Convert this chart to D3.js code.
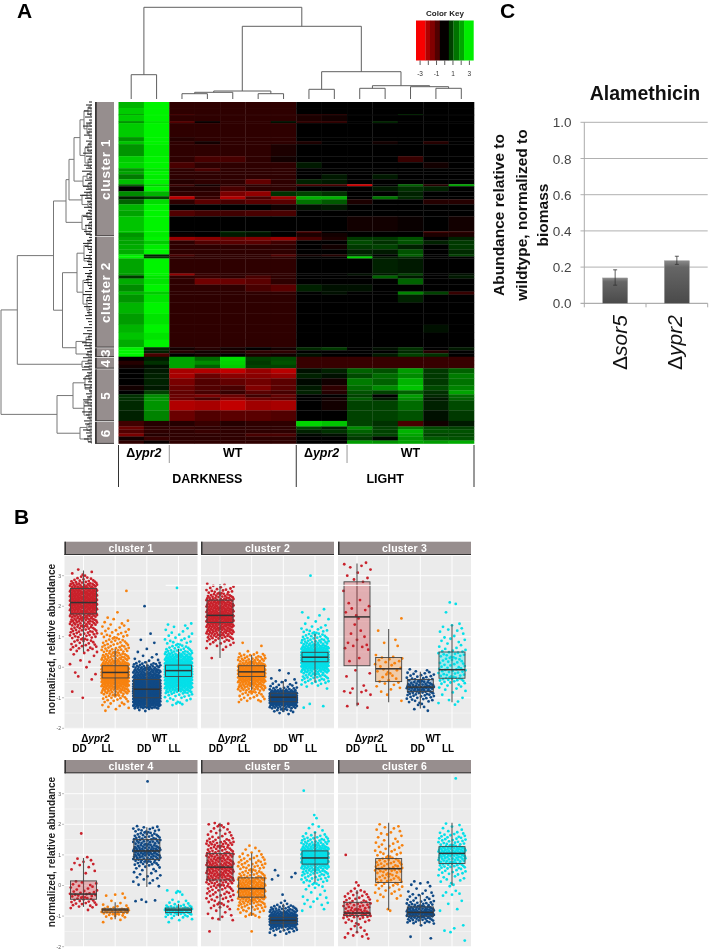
<!DOCTYPE html>
<html>
<head>
<meta charset="utf-8">
<script src="https://cdn.jsdelivr.net/npm/d3@7"></script>
<style>
  body { margin: 0; background: #fff; }
  svg { filter: blur(0.35px); }
  text { font-family: "Liberation Sans", sans-serif; }
</style>
</head>
<body>
<script>
// ---- panel A data: rows are [gene count, 14 z-scores], all estimated by eye
const heatRows1 = [
  [6, 2.2,3,-.5,-.5,-.5,-.5,-.5,0,0,0,0,0,0,0],
  [6, 2.5,3,-.5,-.5,-.5,-.5,-.5,0,0,0,0,0,0,0],
  [1, 2.0,3,-.7,-.5,-.5,-.5,-.5,-.4,-.4,0,0,.4,0,0],
  [6, 2.5,3,-.5,-.5,-.5,-.5,-.5,-.3,-.2,0,0,0,0,0],
  [2, 1.8,2.8,-.9,-.1,-.5,-.5,.2,-.5,-.5,0,.4,0,0,0],
  [14, 2.5,3,-.5,-.5,-.5,-.5,-.5,0,0,0,0,0,0,0],
  [4, 1.8,3,-.4,-.5,-.5,-.5,-.5,0,0,0,0,0,0,0],
  [3, 2.4,3,-.5,-.2,-.5,-.5,-.5,-.3,0,0,-.2,0,-.4,0],
  [12, 1.8,2.9,-.5,-.5,-.5,-.5,-.3,0,0,0,0,0,0,0],
  [6, 2.5,3,-.5,-.8,-.8,-.5,-.2,0,0,0,0,-.6,0,0],
  [6, 2.6,3,-.8,-.5,-.5,-.5,-.5,.3,0,0,0,0,-.2,0],
  [3, 1.8,2.8,-.5,-.8,-.5,-.5,-.5,0,0,0,0,0,0,0],
  [3, 2,3,-.5,-.5,-.5,-.5,-.5,0,0,0,0,0,0,0],
  [5, 1.5,2.9,-.5,-.5,-.5,-.5,-.5,0,.3,0,.3,0,0,0],
  [5, 2.3,3,-.4,-.5,-.5,-1.1,-.5,.4,.3,0,0,0,0,0],
  [2, 1.2,2.5,-.6,-.2,-.5,-.5,-.5,-.8,-.8,-2.4,0,1.2,-.4,2],
  [5, 0,3,-.4,-.4,-.8,-.5,-.5,0,0,0,.3,.6,.4,0],
  [5, 1.7,2.2,-.5,-.5,-1.4,-1.7,.6,.8,.6,0,0,.4,0,0],
  [3, .4,.8,-2.2,-.6,-2.1,-.8,-1.9,2.2,2.2,0,1.4,.5,0,0],
  [5, 1.2,2.7,-.5,-1,-.8,-1,-1,1.4,1.1,-.3,0,0,-.4,-.4],
  [6, 2.2,3,0,0,0,0,-.2,.2,.3,0,0,0,0,0],
  [6, 2,3,-.9,-.7,-.7,-.8,-.8,0,0,0,0,0,0,0],
  [15, 2.4,3,0,0,0,0,0,0,0,-.2,-.2,-.1,0,-.2],
  [1.5, 2.4,3,0,0,.5,.4,0,-.8,0,0,0,0,-.7,-.5],
  [4, 1.8,2.9,-.1,0,.3,.2,0,-.3,-.2,0,0,0,-.3,-.3]
];
const heatRows2 = [
  [3.5, 2,3,-1.8,-1.6,-1.3,-1.5,-1.8,-.8,-.3,.7,.7,1,0,.4],
  [4, 2,2.5,-.5,-.9,-1,-1,-.7,0,0,.9,.6,1,.4,.7],
  [5, 2.1,2.9,-.5,-.5,-.5,-.5,-.5,0,-.2,.7,.8,.4,0,.7],
  [5, 2.1,3,-.5,-.5,-.5,-.5,-.5,0,0,.4,.3,1,0,.5],
  [2, 2.9,.4,-.8,-.5,-.5,-.5,-.9,-.2,-.4,.7,0,1.2,0,.8],
  [2, 3,.6,-.5,-.5,-.5,-.5,-.5,0,0,2.6,.3,.5,0,0],
  [15, 2,3,-.5,-.5,-.5,-.5,-.5,0,0,0,.4,.3,0,0],
  [2, 1.9,3,-1.7,-.6,-.5,-.5,-.5,0,0,.2,.3,.8,0,.2],
  [3, .7,2.8,-.5,-.6,-.5,-.8,-.5,0,0,0,1.2,.3,0,.3],
  [6, 2.1,2.8,-.5,-1.3,-1.2,-1,-.5,0,0,0,0,1.2,0,0],
  [7, 1.7,3,-.5,-.5,-.5,-.8,-1,.4,.2,.2,0,0,0,0],
  [3, 2.2,2.5,-.5,-.5,-.5,-.5,-.5,0,.2,0,0,1.6,.8,-.6],
  [8, 1.8,2.8,-.5,-.5,-.5,-.5,-.5,0,0,0,0,.4,0,0],
  [11, 2.2,3,-.5,-.5,-.5,-.5,-.5,0,0,0,0,0,0,0],
  [11, 1.9,2.8,-.5,-.5,-.5,-.5,-.5,0,0,0,0,0,0,0],
  [8, 2.2,3,-.5,-.5,-.5,-.5,-.5,0,0,0,0,0,.2,0],
  [7, 2.4,2.8,-.5,-.5,-.5,-.5,-.5,0,0,0,0,0,0,0],
  [7.5, 2.1,3,-.5,-.5,-.5,-.5,-.5,0,0,0,0,0,0,0]
];
const heatRows3 = [
  [3, 3,.5,-.2,-.4,-.2,0,-.2,.5,.7,0,.2,.6,0,.3],
  [3, 3,.4,-.4,-.2,-.3,-.5,-.5,0,0,0,0,.5,-.4,0],
  [3.5, 3,-.8,0,-.2,0,-.3,-.2,.2,0,0,.3,.8,.6,0]
];
const heatRows4 = [
  [4, 0,.3,2,1.3,2.7,.8,.9,-.6,-.6,-.6,-.6,-.6,-.6,-.6],
  [4, -.4,.6,2,1.7,2.6,.7,1,-.6,-.6,-.6,-.6,-.6,-.6,-.6],
  [3.5, -.2,.2,2,1.2,2.5,.8,.8,-.6,-.6,-.6,-.6,-.6,-.6,-.6]
];
const heatRows5 = [
  [5, 0,.3,-2,-2.1,-2.3,-1.8,-2.2,.2,.4,1.2,1,1.9,.7,1.2],
  [5, 0,.4,-2,-1.2,-1.6,-1.6,-1.8,.4,.2,.9,1.3,1.7,.7,1.5],
  [7, 0,.4,-1.4,-.9,-1.1,-1.3,-1,.1,-.2,1.5,1.2,2.2,.7,1.4],
  [5, -.2,.3,-1.2,-.9,-.8,-1.5,-1,.3,-.5,1.3,1.7,2.4,.9,1.6],
  [4, 0,.8,-1.1,-.8,-.6,-1,-.8,.4,-.4,1,.8,1.2,.6,2],
  [3, .6,1.7,-1.2,-1.4,-1.2,-.7,-1.1,0,0,.8,0,1.9,.5,1.3],
  [3, .6,1.8,-1.2,-.8,-1.5,-1.2,-1,0,-.2,1.1,.3,1.7,.3,1.2],
  [10, .5,1.8,-2.1,-2,-2.3,-1.9,-2,0,-.2,.8,.8,1.3,.4,.9],
  [10.5, .4,1.6,-1.2,-.9,-1,-1,-.9,0,0,.8,.8,1,.2,.7]
];
const heatRows6 = [
  [5.5, -.7,-.4,-.4,-.6,-.4,-.5,-.5,2.6,2.4,.8,.6,-.8,-.2,.3],
  [3, -1.2,-.5,-.6,-.5,-.5,-.5,-.5,.8,.4,1.7,.8,1.5,.9,.8],
  [4, -.9,-.5,-.5,-.6,-.5,-.5,-.5,.4,.6,1.2,.8,2.2,1,1],
  [3, -1.4,-.4,-.5,-.5,-.5,-.8,-.8,.1,.2,.9,.8,2,.8,.9],
  [4, -.2,-.6,-.5,-.5,-.5,-.5,-.5,0,0,.7,.1,1.8,1.1,1],
  [3, -.5,-.1,-.5,-.5,-.5,-.5,-.5,0,0,1.9,1.8,2,1.9,2.1]
];
const heatRows = [heatRows1, heatRows2, heatRows3, heatRows4, heatRows5, heatRows6].flat();
const clusterLabels = ["cluster 1", "cluster 2", "3", "4", "5", "6"];
const clusterSizes = [134.5, 111, 9.5, 11.5, 52.5, 22.5];
const columnGroups = ["Δypr2", "WT", "Δypr2", "WT"];
const keyBreaks = [-3.5, -2.35, -1.8, -1.2, -.6, .5, 1.05, 1.75, 2.35, 3.5];
const keyTicks = [-3, -2, -1, 0, 1, 2, 3];
const keyLabels = [-3, -1, 1, 3];

// dendrograms: [merge height, child, child]; a plain number is a leaf
const columnTree = [91.7,
  [24.3, 0, 1],
  [72.7,
    [8, [6.7, [5.3, 2, 3], 4], [5.3, 5, 6]],
    [27.3, [9.7, 7, 8], [13.3, [10.7, 9, 10], [12.3, 11, [10.7, 12, 13]]]]
  ]
];
const rowTree = [91,
  [74.7,
    [38.5,
      [26,
        [23,
          [18,
            [12,
              [8, [4, [2, 3, 7], [1.5, 11, 14]], [5, [2, 20, 24], [3, 29, 34]]],
              [7, [4, [2, 40, 44], [1, 48, 51]], [4, [2, 55, 59], [1.5, 63, 66]]]
            ],
            [9, [5, [2, 70, 73], [1, 75, 78]], [4, [2, 80, 83], [1, 85, 87]]]
          ],
          [10, [5, [2, 89, 92], [1, 94, 97]], [4, [2, 99, 101], [1, 103, 106]]]
        ],
        [10, [5, [2, 109, 112], [1, 114, 117]], [6, [3, [1, 119, 122], [1, 124, 127]], [2, 129, 133]]]
      ],
      [29.5,
        [15,
          [8, [4, [2, 137, 141], [1, 145, 149]], [3, [2, 153, 157], [1, 160, 164]]],
          [9, [4, [2, 170, 175], [1, 180, 186]], [5, [2, 192, 198], [3, 204, 212]]]
        ],
        [16, [6, [3, 232, 237], [2, 241, 245]], [4, [2, 248, 250], [1, 252, 255]]]
      ]
    ],
    [10, [4, 257, 260], [3, 263, 266]]
  ],
  [35,
    [19,
      [7, [3, [1, 269, 272], [2, 275, 279]], [2, [1, 282, 285], [1, 288, 290]]],
      [8, [4, [2, 293, 297], [1, 300, 304]], [3, [1, 307, 311], [2, 314, 317]]]
    ],
    [12, [5, [3, 320, 323], [2, 326, 329]], [4, [2, 332, 335], [1, 337, 340]]]
  ]
];
// short leaf branches along the edge of the row dendrogram, one every 3 rows
const rowFringe = [3,6,4,8,5,7,3,6,9,4,5,8,3,6,4,7,5,9,6,3,4,8,6,10,5,3,7,4,9,6,8,12,7,5,3,8,
  4,6,9,5,3,7,4,8,6,3,5,9,7,4,3,6,8,5,4,9,3,7,5,6,8,4,3,7,9,5,6,4,8,3,5,7,6,4,3,8,5,9,4,6,
  10,8,7,5,6,9,4,7,8,10,5,6,9,4,8,7,3,6,5,9,7,8,4,10,6,5,8,7,4,9,6,5,8,4];

// ---- panel B data: treatments, boxes [low, q1, median, q3, high]
const treatments = ["dd-mut", "ll-mut", "dd-wt", "ll-wt"];
const treatmentColors = ["#c9212b", "#f7820f", "#114a86", "#05dfe8"];
const facetNames = ["cluster 1", "cluster 2", "cluster 3", "cluster 4", "cluster 5", "cluster 6"];
const facetBoxes = [
  [[.5,1.75,2.12,2.58,3.17], [-.95,-.35,-.17,.05,.6], [-1.3,-1,-.72,-.4,.2], [-.8,-.3,-.11,.07,.6]],
  [[.3,1.47,1.7,2.2,2.73], [-.75,-.3,-.15,.05,.4], [-1.45,-1.13,-.98,-.85,-.45], [-.5,.18,.33,.49,1.1]],
  [[-1.28,.05,1.65,2.8,3.4], [-1.15,-.47,-.05,.32,1.25], [-1.35,-.8,-.65,-.4,-.15], [-1.15,-.36,-.08,.5,1.4]],
  [[-.7,-.45,-.28,.15,.9], [-1.1,-.87,-.8,-.76,-.55], [-.05,.85,1.13,1.5,1.9], [-1,-.88,-.8,-.74,-.6]],
  [[-1.15,.18,.6,1.05,2.05], [-1,-.38,-.1,.25,1.05], [-1.5,-1.23,-1.14,-1.04,-.6], [.1,.7,.9,1.13,1.75]],
  [[-1.55,-.98,-.9,-.55,-.15], [-.8,.1,.55,.88,2.05], [-1.3,-1,-.88,-.7,-.3], [0,.72,1.05,1.27,2.05]]
];
// jittered dots, read as [lowest value, dots per 0.1-wide step]; dots are spread evenly inside their step
const facetDots = [
  [
    [-1.0,[1,0,1,0,0,0,1,1,2,0,1,1,2,0,2,3,5,6,5,7,7,9,9,10,12,14,15,17,20,22,24,26,25,24,24,22,20,15,10,5,3,2,1]],
    [-1.4,[2,3,4,5,7,10,14,18,24,30,34,38,38,34,30,22,16,14,12,10,9,8,7,6,6,5,4,3,3,2,2,0,1,0,0,0,0,0,0,1]],
    [-1.4,[3,22,30,36,40,44,48,50,46,38,30,26,22,20,16,10,4,2,2,1,1,0,1,1,0,1,0,0,0,0,0,0,0,0,1]],
    [-1.2,[4,4,5,7,14,22,28,32,36,40,44,44,40,34,28,22,18,12,8,6,5,4,3,3,2,2,3,0,0,0,0,0,0,0,0,0,0,0,1]]
  ],
  [
    [.3,[1,0,0,2,3,5,7,12,15,17,19,21,23,25,25,22,20,19,18,16,13,10,7,5,3]],
    [-1.1,[5,5,6,9,12,16,20,26,30,34,32,26,18,13,10,8,2,0,1,1]],
    [-1.5,[3,8,16,34,48,56,46,26,10,5,4,3,0,1,1]],
    [-1.3,[2,1,0,0,0,0,1,3,6,8,10,12,18,26,34,42,46,44,36,26,18,12,10,8,7,6,3,2,1,2,1,1,1,0,0,0,0,0,0,0,0,0,0,1]]
  ],
  [
    [-1.3,[2,1,0,0,1,4,1,1,0,0,1,1,1,0,0,1,1,0,0,2,3,1,1,1,1,1,0,1,0,1,1,1,2,1,1,1,0,0,1,0,0,1,2,1,1,1,2,2]],
    [-1.1,[1,0,1,1,2,2,3,2,2,3,3,2,3,3,4,1,0,0,1,1,1,0,0,1,0,0,0,1]],
    [-1.4,[2,1,3,5,7,9,12,16,14,10,7,6,5,3]],
    [-1.2,[2,2,1,1,2,3,3,5,9,7,6,7,5,5,5,6,6,6,3,2,2,3,2,1,3,2,2,0,0,0,1,0,0,2]]
  ],
  [
    [-.8,[1,4,6,6,7,7,5,3,4,3,0,0,1,2,1,3,2,2,0,0,0,0,0,0,0,1]],
    [-1.2,[1,2,5,12,12,5,2,1,1,3]],
    [-.5,[4,0,0,0,0,2,2,3,3,3,3,4,8,11,12,14,16,15,11,10,10,9,8,7,5,0,0,0,0,0,0,0,0,0,0,0,0,0,0,1]],
    [-1.2,[1,3,6,14,18,11,4,3,0,1,4]]
  ],
  [
    [-1.5,[1,0,0,0,3,2,2,2,4,4,5,5,6,6,7,9,10,11,13,14,14,15,14,12,11,11,9,8,10,10,6,4,4,3,3,5]],
    [-1.5,[1,0,0,0,0,4,4,6,8,10,14,16,18,20,20,18,16,14,9,8,7,7,7,6,5,4,2,2,1]],
    [-1.6,[2,6,12,30,42,44,32,22,14,9,3,1,0,1,0,0,0,0,1,2,1,1]],
    [-.8,[2,1,3,2,3,1,2,2,4,5,7,7,10,13,17,22,27,30,28,25,20,15,11,9,6,3,1,2,1,0,1,1,0,0,0,0,0,0,0,1]]
  ],
  [
    [-1.7,[3,3,2,2,2,4,4,10,12,9,7,7,6,5,4,4,1,1,1,0,0,0,0,0,0,0,0,1]],
    [-.8,[2,0,0,1,2,3,3,3,5,5,6,6,6,8,7,7,6,5,4,4,3,4,3,2,2,3,2,3,1]],
    [-1.7,[2,0,0,0,1,8,12,20,28,18,14,9,6,4,4,3,1,2,3]],
    [-1.8,[1,0,0,2,1,1,0,0,0,0,2,0,1,1,0,3,2,0,2,2,3,3,5,5,8,10,10,12,14,16,16,10,7,7,6,5,2,2,2,0,0,0,0,0,0,0,0,0,0,0,0,0,0,1]]
  ]
];
// order in which dots take the 37 jitter slots across a box
const jitterSlots = [17,3,29,11,34,7,22,0,26,14,32,5,19,36,9,24,1,30,12,27,4,35,16,8,21,33,2,25,13,31,6,18,28,10,23,15,20];
const abundanceTicks = [3, 2, 1, 0, -1, -2];

// ---- panel C data
const barNames = ["sor5", "ypr2"];
const barValues = [0.14, 0.235];
const barErrLow = [0.10, 0.215];
const barErrHigh = [0.185, 0.26];
const barTicks = [0, 0.2, 0.4, 0.6, 0.8, 1.0];

const svg = d3.select("body").append("svg").attr("width", 709).attr("height", 950);

svg.selectAll("text.letter")
  .data([["A", 17, 18], ["B", 14, 524], ["C", 500, 18]])
  .enter()
  .append("text")
  .attr("x", (d) => d[1])
  .attr("y", (d) => d[2])
  .attr("font-size", 21)
  .attr("font-weight", "bold")
  .text((d) => d[0]);

// Δ upright, gene name in italics
const geneLabel = (sel, name) => {
  sel.append("tspan").text("Δ").attr("font-style", "normal");
  sel.append("tspan").text(name).attr("font-style", "italic");
};

// ---- panel A
const colScale = d3.scaleBand().domain(d3.range(14)).range([118.5, 474]);
const rowTotal = d3.sum(heatRows, (d) => d[0]);
const rowScale = d3.scaleLinear().domain([0, rowTotal]).range([102, 443.5]);
const heat = d3.scaleLinear()
  .domain([-3, -2, -1, -.5, 0, 1, 2, 3])
  .range(["#ff0000", "#a80000", "#5a0000", "#2e0000", "#000000", "#005200", "#00a400", "#00f400"]);

let rowStart = 0;
heatRows.forEach((row) => {
  const y0 = rowScale(rowStart);
  const y1 = rowScale(rowStart + row[0]);
  svg.append("g")
    .selectAll("rect")
    .data(row.slice(1))
    .enter()
    .append("rect")
    .attr("x", (d, i) => colScale(i))
    .attr("y", y0)
    .attr("width", colScale.bandwidth() + 0.3)
    .attr("height", y1 - y0 + 0.3)
    .attr("fill", (d) => heat(d));
  rowStart += row[0];
});

const drawTree = (tree, leafPos, heightPos, horizontal, color) => {
  const root = d3.hierarchy(tree, (d) => (Array.isArray(d) ? d.slice(1) : null));
  let path = "";
  const pt = (p, h) => (horizontal ? `${heightPos(h)},${p}` : `${p},${heightPos(h)}`);
  root.eachAfter((n) => {
    if (!n.children) {
      n.pos = leafPos(n.data);
      n.h = 0;
      return;
    }
    n.h = n.data[0];
    n.pos = d3.mean(n.children, (c) => c.pos);
    const [a, b] = n.children;
    path += `M${pt(a.pos, a.h)}L${pt(a.pos, n.h)}L${pt(b.pos, n.h)}L${pt(b.pos, b.h)}`;
  });
  svg.append("path").attr("d", path).attr("fill", "none").attr("stroke", color).attr("stroke-width", 1);
};

drawTree(columnTree, (i) => colScale(i) + colScale.bandwidth() / 2,
  d3.scaleLinear().domain([0, 92]).range([99, 7]), false, "#5f5f5f");
const rowHeight = d3.scaleLinear().domain([0, 92]).range([92, 0]);
drawTree(rowTree, rowScale, rowHeight, true, "#777");

svg.append("g")
  .selectAll("line")
  .data(rowFringe)
  .enter()
  .append("line")
  .attr("x1", rowHeight(0))
  .attr("x2", (d) => rowHeight(d))
  .attr("y1", (d, i) => rowScale(i * 3))
  .attr("y2", (d, i) => rowScale(i * 3))
  .attr("stroke", "#222")
  .attr("stroke-width", 1);

// cluster strip
let clusterStart = 0;
clusterLabels.forEach((label, i) => {
  const y0 = rowScale(clusterStart);
  const y1 = rowScale(clusterStart + clusterSizes[i]);
  svg.append("rect").attr("x", 96).attr("y", y0).attr("width", 18).attr("height", y1 - y0 - 1).attr("fill", "#968e8e");
  svg.append("rect").attr("x", 95).attr("y", y0).attr("width", 1.8).attr("height", y1 - y0 - 1).attr("fill", "#3a3636");
  svg.append("rect").attr("x", 95).attr("y", y1 - 1.6).attr("width", 19).attr("height", 0.9).attr("fill", "#3a3636");
  svg.append("text")
    .attr("transform", `translate(110,${(y0 + y1) / 2}) rotate(-90)`)
    .attr("text-anchor", "middle")
    .attr("font-size", 13.5)
    .attr("font-weight", "bold")
    .attr("letter-spacing", 0.6)
    .attr("fill", "#fff")
    .text(label);
  clusterStart += clusterSizes[i];
});

// brackets under the heat map
const groupStarts = [0, 2, 7, 9];
const groupEnds = [2, 7, 9, 14];
const colEdge = (i) => colScale.range()[0] + i * colScale.step();
[0, 7, 14].forEach((c) => {
  svg.append("line").attr("x1", colEdge(c)).attr("x2", colEdge(c)).attr("y1", 445).attr("y2", 487).attr("stroke", "#333");
});
[2, 9].forEach((c) => {
  svg.append("line").attr("x1", colEdge(c)).attr("x2", colEdge(c)).attr("y1", 445).attr("y2", 463).attr("stroke", "#999");
});
columnGroups.forEach((g, i) => {
  const t = svg.append("text")
    .attr("x", (colEdge(groupStarts[i]) + colEdge(groupEnds[i])) / 2)
    .attr("y", 457)
    .attr("text-anchor", "middle")
    .attr("font-size", 12.5)
    .attr("font-weight", "bold");
  if (g.startsWith("Δ")) geneLabel(t, g.slice(1));
  else t.text(g);
});
[["DARKNESS", 0, 7], ["LIGHT", 7, 14]].forEach((d) => {
  svg.append("text")
    .attr("x", (colEdge(d[1]) + colEdge(d[2])) / 2)
    .attr("y", 483)
    .attr("text-anchor", "middle")
    .attr("font-size", 12.5)
    .attr("font-weight", "bold")
    .text(d[0]);
});

// colour key
const keyX = d3.scaleLinear().domain([-3.5, 3.5]).range([416, 473.5]);
svg.append("g")
  .selectAll("rect")
  .data(d3.pairs(keyBreaks))
  .enter()
  .append("rect")
  .attr("x", (d) => keyX(d[0]))
  .attr("y", 20.5)
  .attr("width", (d) => keyX(d[1]) - keyX(d[0]) + 0.2)
  .attr("height", 40)
  .attr("fill", (d) => heat((d[0] + d[1]) / 2));
svg.append("g")
  .selectAll("line")
  .data(keyTicks)
  .enter()
  .append("line")
  .attr("x1", (d) => keyX(d))
  .attr("x2", (d) => keyX(d))
  .attr("y1", 60.5)
  .attr("y2", 65)
  .attr("stroke", "#333")
  .attr("stroke-width", 0.8);
svg.append("g")
  .selectAll("text")
  .data(keyLabels)
  .enter()
  .append("text")
  .attr("x", (d) => keyX(d))
  .attr("y", 76)
  .attr("text-anchor", "middle")
  .attr("font-size", 6.5)
  .attr("fill", "#333")
  .text((d) => d);
svg.append("text").attr("x", 445).attr("y", 15.5).attr("text-anchor", "middle")
  .attr("font-size", 8).attr("font-weight", "bold").attr("fill", "#222").text("Color Key");

// ---- panel B
const facetX = [[64.5, 197.5], [201, 334], [338, 471]];
const facetRows = [
  { strip: [541.7, 555], plot: [556, 729], y3: 575.7, yM2: 728.3, labelY: 639 },
  { strip: [760, 773.3], plot: [774, 947], y3: 793.7, yM2: 946.7, labelY: 852 }
];

facetNames.forEach((name, f) => {
  const col = f % 3;
  const row = facetRows[Math.floor(f / 3)];
  const [x0, x1] = facetX[col];
  const x = d3.scalePoint().domain(treatments).range([x0, x1]).padding(0.6);
  const y = d3.scaleLinear().domain([3, -2]).range([row.y3, row.yM2]);
  const g = svg.append("g");

  g.append("rect").attr("x", x0).attr("y", row.plot[0]).attr("width", x1 - x0)
    .attr("height", row.plot[1] - row.plot[0]).attr("fill", "#ebebeb");
  d3.range(-1.5, 3.5, 1).forEach((v) => {
    g.append("line").attr("x1", x0).attr("x2", x1).attr("y1", y(v)).attr("y2", y(v))
      .attr("stroke", "#fff").attr("stroke-width", 0.4);
  });
  abundanceTicks.forEach((v) => {
    g.append("line").attr("x1", x0).attr("x2", x1).attr("y1", y(v)).attr("y2", y(v))
      .attr("stroke", "#fff").attr("stroke-width", 0.9);
  });
  treatments.forEach((t) => {
    g.append("line").attr("x1", x(t)).attr("x2", x(t)).attr("y1", row.plot[0]).attr("y2", row.plot[1])
      .attr("stroke", "#fff").attr("stroke-width", 0.9);
  });

  // strip
  g.append("rect").attr("x", x0).attr("y", row.strip[0]).attr("width", x1 - x0)
    .attr("height", row.strip[1] - row.strip[0]).attr("fill", "#978e8e");
  g.append("rect").attr("x", x0).attr("y", row.strip[0]).attr("width", 1.5)
    .attr("height", row.strip[1] - row.strip[0]).attr("fill", "#333");
  g.append("rect").attr("x", x0).attr("y", row.strip[1] - 1).attr("width", x1 - x0)
    .attr("height", 1).attr("fill", "#333");
  g.append("text").attr("x", (x0 + x1) / 2).attr("y", row.strip[1] - 3)
    .attr("text-anchor", "middle").attr("font-size", 10.5).attr("font-weight", "bold")
    .attr("letter-spacing", 0.2).attr("fill", "#fff").text(name);

  treatments.forEach((t, k) => {
    const [start, counts] = facetDots[f][k];
    const dots = [];
    counts.forEach((n, b) => {
      d3.range(n).forEach((j) => dots.push(start + 0.1 * (b + (j + 0.5) / n - 0.5)));
    });
    const slotX = d3.scaleLinear().domain([0, 36]).range([x(t) - 13.5, x(t) + 13.5]);
    g.append("g")
      .selectAll("circle")
      .data(dots)
      .enter()
      .append("circle")
      .attr("cx", (d, i) => slotX(jitterSlots[(i + k * 11 + f * 5) % jitterSlots.length]))
      .attr("cy", (d) => y(d))
      .attr("r", 1.4)
      .attr("fill", treatmentColors[k]);

    const [lo, q1, med, q3, hi] = facetBoxes[f][k];
    const boxW = 26;
    g.append("line").attr("x1", x(t)).attr("x2", x(t)).attr("y1", y(lo)).attr("y2", y(hi))
      .attr("stroke", "#555").attr("stroke-width", 1.1);
    g.append("rect").attr("x", x(t) - boxW / 2).attr("y", y(q3)).attr("width", boxW)
      .attr("height", y(q1) - y(q3)).attr("fill", treatmentColors[k]).attr("fill-opacity", 0.3)
      .attr("stroke", "#444").attr("stroke-width", 0.9);
    g.append("line").attr("x1", x(t) - boxW / 2).attr("x2", x(t) + boxW / 2).attr("y1", y(med)).attr("y2", y(med))
      .attr("stroke", "#333").attr("stroke-width", 1.5);
  });

  if (col === 0) {
    abundanceTicks.forEach((v) => {
      g.append("text").attr("x", 61).attr("y", y(v) + 1.8).attr("text-anchor", "end")
        .attr("font-size", 5).attr("fill", "#555").text(v);
      g.append("line").attr("x1", 62).attr("x2", 64).attr("y1", y(v)).attr("y2", y(v)).attr("stroke", "#777").attr("stroke-width", 0.5);
    });
    g.append("text")
      .attr("transform", `translate(55,${row.labelY}) rotate(-90)`)
      .attr("text-anchor", "middle")
      .attr("font-size", 10.1)
      .attr("font-weight", "bold")
      .attr("fill", "#222")
      .text("normalized, relative abundance");
  }
});

// stray white rule that crosses the top row in the original
svg.append("line").attr("x1", 165.7).attr("x2", 389).attr("y1", 585.3).attr("y2", 585.3).attr("stroke", "#fff").attr("stroke-width", 1);

// labels between the rows of panel B
facetX.forEach((range) => {
  const x = d3.scalePoint().domain(treatments).range(range).padding(0.6);
  const labelOffsets = [-4, -7.5, -2.5, -4];
  treatments.forEach((t, k) => {
    svg.append("text").attr("x", x(t) + labelOffsets[k]).attr("y", 751.7).attr("text-anchor", "middle")
      .attr("font-size", 10).attr("font-weight", "bold").text(k % 2 === 0 ? "DD" : "LL");
  });
  const gene = svg.append("text").attr("x", (x("dd-mut") + x("ll-mut")) / 2 - 4).attr("y", 741.7)
    .attr("text-anchor", "middle").attr("font-size", 10).attr("font-weight", "bold");
  geneLabel(gene, "ypr2");
  svg.append("text").attr("x", (x("dd-wt") + x("ll-wt")) / 2 - 3).attr("y", 741.7)
    .attr("text-anchor", "middle").attr("font-size", 10).attr("font-weight", "bold").text("WT");
});

// ---- panel C
const barFont = "Lato, 'Open Sans', sans-serif";
const barX = d3.scaleBand().domain(barNames).range([584.3, 707.7]);
const barY = d3.scaleLinear().domain([0, 1]).range([303.3, 122.3]);
const defs = svg.append("defs");
const grad = defs.append("linearGradient").attr("id", "barFill").attr("x1", 0).attr("x2", 0).attr("y1", 0).attr("y2", 1);
grad.append("stop").attr("offset", "0%").attr("stop-color", "#8a8a8a");
grad.append("stop").attr("offset", "15%").attr("stop-color", "#666");
grad.append("stop").attr("offset", "100%").attr("stop-color", "#4a4a4a");

barTicks.forEach((t) => {
  svg.append("line").attr("x1", 580.5).attr("x2", 707.7).attr("y1", barY(t)).attr("y2", barY(t))
    .attr("stroke", t === 0 ? "#999" : "#b0b0b0").attr("stroke-width", 1);
  svg.append("text").attr("x", 571.5).attr("y", barY(t) + 5).attr("text-anchor", "end")
    .attr("font-family", barFont).attr("font-size", 13.5).attr("fill", "#444").text(t.toFixed(1));
});
svg.append("line").attr("x1", 584.3).attr("x2", 584.3).attr("y1", barY(1)).attr("y2", barY(0) + 4).attr("stroke", "#aaa");
[barX.step(), barX.step() * 2].forEach((dx) => {
  svg.append("line").attr("x1", 584.3 + dx).attr("x2", 584.3 + dx).attr("y1", barY(0)).attr("y2", barY(0) + 4).attr("stroke", "#aaa");
});

const barLabelOffsets = [12, 5];
barNames.forEach((name, i) => {
  const cx = barX(name) + barX.bandwidth() / 2;
  svg.append("rect").attr("x", cx - 12.5).attr("y", barY(barValues[i])).attr("width", 25)
    .attr("height", barY(0) - barY(barValues[i])).attr("fill", "url(#barFill)").attr("stroke", "#999").attr("stroke-width", 0.5);
  svg.append("path")
    .attr("d", `M${cx - 2},${barY(barErrHigh[i])}H${cx + 2}M${cx},${barY(barErrHigh[i])}V${barY(barErrLow[i])}M${cx - 2},${barY(barErrLow[i])}H${cx + 2}`)
    .attr("fill", "none").attr("stroke", "#333").attr("stroke-width", 0.8);
  const t = svg.append("text")
    .attr("transform", `translate(${cx + barLabelOffsets[i]},370) rotate(-90)`)
    .attr("font-family", "'Noto Sans', sans-serif")
    .attr("font-size", 21)
    .attr("fill", "#111");
  geneLabel(t, name);
});

svg.append("text").attr("x", 645).attr("y", 100).attr("text-anchor", "middle")
  .attr("font-family", barFont).attr("font-size", 19.5).attr("font-weight", "bold").attr("fill", "#111").text("Alamethicin");
[["Abundance relative to", 499], ["wildtype, normalized to", 522], ["biomass", 543]].forEach((d) => {
  svg.append("text")
    .attr("transform", `translate(${d[1] + 5},215) rotate(-90)`)
    .attr("text-anchor", "middle")
    .attr("font-family", barFont)
    .attr("font-size", 15.5)
    .attr("font-weight", "bold")
    .attr("fill", "#111")
    .text(d[0]);
});
</script>
</body>
</html>
